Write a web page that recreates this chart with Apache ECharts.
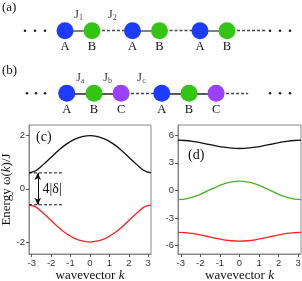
<!DOCTYPE html>
<html><head><meta charset="utf-8">
<script src="https://cdn.jsdelivr.net/npm/echarts@6/dist/echarts.min.js"></script>
<style>html,body{margin:0;padding:0;background:#fff}#c{width:302px;height:281px}</style>
</head><body><div id="c"></div>
<script>
// ---------- data ----------
// (a) two-site chain: unit cells and sublattices
const cellsA = [0, 1, 2];
const sublatA = ['A', 'B'];
const hopA = [['J', '1'], ['J', '2']];
// (b) three-site chain
const cellsB = [0, 1];
const sublatB = ['A', 'B', 'C'];
const hopB = [['J', 'a'], ['J', 'b'], ['J', 'c']];
// (c) two bands
const kC = [-3.14159, -2.8, -2.4, -2.0, -1.6, -1.2, -0.8, -0.4, 0, 0.4, 0.8, 1.2, 1.6, 2.0, 2.4, 2.8, 3.14159];
const upperC = [0.60, 0.68, 0.92, 1.19, 1.46, 1.69, 1.86, 1.96, 2.00, 1.96, 1.86, 1.69, 1.46, 1.19, 0.92, 0.68, 0.60];
const lowerC = [-0.60, -0.68, -0.92, -1.19, -1.46, -1.69, -1.86, -1.96, -2.00, -1.96, -1.86, -1.69, -1.46, -1.19, -0.92, -0.68, -0.60];
const gapEdges = [0.6, -0.6];
const gapLabel = '4|δ|';
// (d) three bands
const kD = [-3.14159, -2.8, -2.4, -2.0, -1.6, -1.2, -0.8, -0.4, 0, 0.4, 0.8, 1.2, 1.6, 2.0, 2.4, 2.8, 3.14159];
const topD = [5.45, 5.42, 5.33, 5.19, 5.01, 4.84, 4.69, 4.59, 4.55, 4.59, 4.69, 4.84, 5.01, 5.19, 5.33, 5.42, 5.45];
const midD = [-1.00, -0.94, -0.74, -0.42, -0.03, 0.36, 0.70, 0.92, 1.00, 0.92, 0.70, 0.36, -0.03, -0.42, -0.74, -0.94, -1.00];
const botD = [-4.55, -4.58, -4.67, -4.83, -5.01, -5.20, -5.36, -5.46, -5.50, -5.46, -5.36, -5.20, -5.01, -4.83, -4.67, -4.58, -4.55];
// ticks
const kTicks = [-3, -2, -1, 0, 1, 2, 3];
const yTicksC = [-2, 0, 2];
const yTicksD = [-6, -3, 0, 3, 6];

// ---------- style / layout ----------
const SERIF = '"Liberation Serif","DejaVu Serif",serif';
const SANS = '"Liberation Sans",Arial,sans-serif';
const siteColor = { A: '#1e3cff', B: '#33c414', C: '#9a40ff' };
const offA = [0, 0.4];
const offB = [0, 0.287, 0.572];
const PI = 3.14159;

const richJ = {
  j: { fontFamily: SERIF, fontSize: 13, color: '#111' },
  s: { fontFamily: SERIF, fontSize: 8, color: '#111', padding: [7, 0, 0, 0] }
};

function chainSeries(gi, cells, subs, offs, hops, solidColor, dotsL, dotsR, lastEnd) {
  const P = cells.length;
  const sites = [];
  cells.forEach(n => subs.forEach((s, i) => sites.push({ value: [n + offs[i], 0], name: s, itemStyle: { color: siteColor[s], opacity: 1 } })));
  const solid = [], dashed = [];
  cells.forEach((n, ci) => {
    for (let i = 0; i < subs.length - 1; i++) solid.push({ coords: [[n + offs[i], 0], [n + offs[i + 1], 0]] });
    const end = ci === P - 1 ? n + lastEnd : n + 1;
    dashed.push({ coords: [[n + offs[subs.length - 1], 0], [end, 0]] });
  });
  const jPts = [];
  hops.forEach((h, i) => {
    const x1 = offs[i];
    const x2 = i + 1 < offs.length ? offs[i + 1] : 1;
    jPts.push({ value: [(x1 + x2) / 2, 0], name: '{j|' + h[0] + '}{s|' + h[1] + '}' });
  });
  const dots = dotsL.concat(dotsR).map(x => [x, 0]);
  return [
    { type: 'lines', coordinateSystem: 'cartesian2d', xAxisIndex: gi, yAxisIndex: gi, polyline: false, silent: true,
      lineStyle: { color: solidColor, width: 1.6, type: 'solid', opacity: 1 }, data: solid, z: 1 },
    { type: 'lines', coordinateSystem: 'cartesian2d', xAxisIndex: gi, yAxisIndex: gi, silent: true,
      lineStyle: { color: '#444', width: 1.3, type: [3, 2], opacity: 1 }, data: dashed, z: 1 },
    { type: 'scatter', xAxisIndex: gi, yAxisIndex: gi, symbolSize: 17, data: sites, z: 3, itemStyle: { opacity: 1 },
      label: { show: true, position: 'bottom', distance: 1, formatter: p => p.name, fontFamily: SERIF, fontSize: 12.5, color: '#111' } },
    { type: 'scatter', xAxisIndex: gi, yAxisIndex: gi, symbolSize: 0, data: jPts, z: 3,
      label: { show: true, position: 'inside', offset: [0, -16], formatter: p => p.name, rich: richJ } },
    { type: 'scatter', xAxisIndex: gi, yAxisIndex: gi, symbolSize: 2.6, data: dots, itemStyle: { color: '#222', opacity: 1 }, z: 3 }
  ];
}

function valAxis(gi, min, max, ticks, name, nameGap, rot) {
  return {
    type: 'value', gridIndex: gi, min: min, max: max,
    axisLine: { show: true, onZero: false, lineStyle: { color: '#888', width: 1 } },
    axisTick: { show: true, length: 3, customValues: ticks, lineStyle: { color: '#555' } },
    axisLabel: { customValues: ticks, fontFamily: SANS, fontSize: 9.5, color: '#333', margin: 4 },
    splitLine: { show: false },
    name: name, nameLocation: 'middle', nameGap: nameGap, nameRotate: rot,
    nameTextStyle: { fontFamily: SERIF, fontSize: 13, color: '#111',
      rich: { t: { fontFamily: SERIF, fontSize: 13, color: '#111' }, i: { fontFamily: SERIF, fontSize: 13, fontStyle: 'italic', color: '#111' } } }
  };
}

const lineBase = { type: 'line', showSymbol: false, symbol: 'none', smooth: 0.35, silent: true };

const option = {
  animation: false,
  backgroundColor: '#fff',
  grid: [
    { left: 0, right: 0, top: 9, height: 43.4, outerBoundsMode: 'none', containLabel: false },
    { left: 0, right: 0, top: 71.6, height: 43.4, outerBoundsMode: 'none', containLabel: false },
    { left: 29, top: 125, width: 122, height: 129, show: true, borderColor: '#888', borderWidth: 1, outerBoundsMode: 'none', containLabel: false },
    { left: 178, top: 125, width: 123, height: 129, show: true, borderColor: '#888', borderWidth: 1, outerBoundsMode: 'none', containLabel: false }
  ],
  xAxis: [
    { type: 'value', gridIndex: 0, min: -0.963, max: 3.511, show: false },
    { type: 'value', gridIndex: 1, min: -0.702, max: 2.476, show: false },
    valAxis(2, -PI, PI, kTicks, '{t|wavevector }{i|k}', 15, 0),
    valAxis(3, -PI, PI, kTicks, '{t|wavevector }{i|k}', 15, 0)
  ],
  yAxis: [
    { type: 'value', gridIndex: 0, min: -1, max: 1, show: false },
    { type: 'value', gridIndex: 1, min: -1, max: 1, show: false },
    valAxis(2, -2.45, 2.4, yTicksC, '{t|Energy ω(}{i|k}{t|)/J}', 14, 90),
    valAxis(3, -6.9, 7.1, yTicksD, '', 10, 90)
  ],
  graphic: [
    { type: 'text', left: 2, top: 1, style: { text: '(a)', font: '13px ' + SERIF, fill: '#111' } },
    { type: 'text', left: 2, top: 64, style: { text: '(b)', font: '13px ' + SERIF, fill: '#111' } },
    { type: 'text', left: 36, top: 130, style: { text: '(c)', font: '14px ' + SERIF, fill: '#111' } },
    { type: 'text', left: 188, top: 148, style: { text: '(d)', font: '14px ' + SERIF, fill: '#111' } }
  ],
  series: [
    ...chainSeries(0, cellsA, sublatA, offA, hopA, '#555', [-0.593, -0.444, -0.296], [3.037, 3.185, 3.333], 0.97),
    ...chainSeries(1, cellsB, sublatB, offB, hopB, '#222', [-0.418, -0.323, -0.228], [2.14, 2.245, 2.35], 0.91),
    { ...lineBase, xAxisIndex: 2, yAxisIndex: 2, data: kC.map((k, i) => [k, upperC[i]]), lineStyle: { color: '#111', width: 1.3 } },
    { ...lineBase, xAxisIndex: 2, yAxisIndex: 2, data: kC.map((k, i) => [k, lowerC[i]]), lineStyle: { color: '#ff2020', width: 1.3 } },
    { ...lineBase, smooth: false, xAxisIndex: 2, yAxisIndex: 2, data: [[-PI, gapEdges[0]], [-1.45, gapEdges[0]]], lineStyle: { color: '#111', width: 1, type: [3, 2] },
      markLine: { silent: true, symbol: ['arrow', 'arrow'], symbolSize: [5, 7], label: { show: false }, lineStyle: { color: '#111', width: 1, type: 'solid' },
        data: [[{ coord: [-2.69, gapEdges[0]] }, { coord: [-2.69, gapEdges[1]] }]] } },
    { ...lineBase, smooth: false, xAxisIndex: 2, yAxisIndex: 2, data: [[-PI, gapEdges[1]], [-1.45, gapEdges[1]]], lineStyle: { color: '#111', width: 1, type: [3, 2] },
      markPoint: { silent: true, symbol: 'rect', symbolSize: 0, data: [{ coord: [-1.95, 0], value: gapLabel }],
        label: { show: true, formatter: gapLabel, fontFamily: SERIF, fontSize: 14, color: '#111' } } },
    { ...lineBase, xAxisIndex: 3, yAxisIndex: 3, data: kD.map((k, i) => [k, topD[i]]), lineStyle: { color: '#111', width: 1.3 } },
    { ...lineBase, xAxisIndex: 3, yAxisIndex: 3, data: kD.map((k, i) => [k, midD[i]]), lineStyle: { color: '#4caf28', width: 1.3 } },
    { ...lineBase, xAxisIndex: 3, yAxisIndex: 3, data: kD.map((k, i) => [k, botD[i]]), lineStyle: { color: '#ff2020', width: 1.3 } }
  ]
};
const chart = echarts.init(document.getElementById('c'), null, { renderer: 'canvas' });
chart.setOption(option);
</script>
</body></html>
